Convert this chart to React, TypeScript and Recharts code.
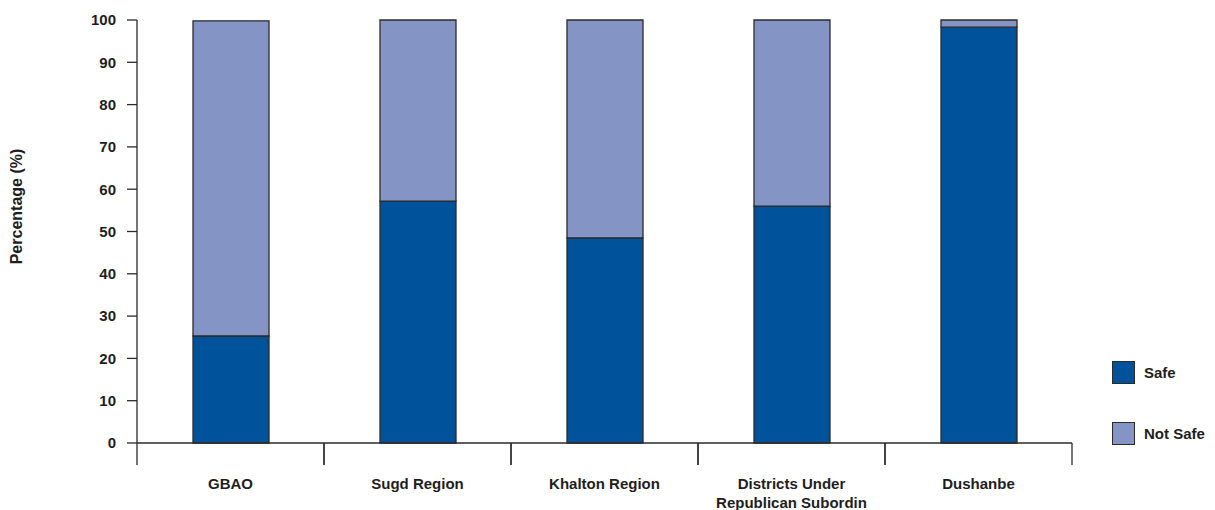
import React from 'react';
import { BarChart, Bar, XAxis, YAxis } from 'recharts';

const categories = ['GBAO', 'Sugd Region', 'Khalton Region', 'Districts Under Republican Subordin', 'Dushanbe'];
const safeValues = [25.3, 57.2, 48.5, 56.0, 98.3];
const notSafeValues = [74.5, 42.8, 51.5, 44.0, 1.7];
const yTicks = [0, 10, 20, 30, 40, 50, 60, 70, 80, 90, 100];
const seriesNames = ['Safe', 'Not Safe'];
const colors = ['#00529b', '#8494c4'];

const data = categories.map((c, i) => ({ name: c, safe: safeValues[i], notSafe: notSafeValues[i] }));

const FONT = '"Liberation Sans", Arial, sans-serif';
const TEXT = '#1e1e1e';
const LINE = '#2b2b2b';

function wrap(label: string, max: number): string[] {
  const words = label.split(' ');
  const lines: string[] = [];
  let cur = '';
  for (const w of words) {
    const next = cur ? cur + ' ' + w : w;
    if (next.length > max && cur) {
      lines.push(cur);
      cur = w;
    } else cur = next;
  }
  if (cur) lines.push(cur);
  return lines;
}

const XTick = (props: any) => {
  const { x, y, payload } = props;
  const half = payload && payload.offset ? payload.offset : 93.5;
  const axisY = y - 2;
  const lines = wrap(String(payload.value), 20);
  return (
    <g>
      <line x1={x - half} x2={x - half} y1={axisY} y2={axisY + 22} stroke={LINE} strokeWidth={1.3} />
      <line x1={x + half} x2={x + half} y1={axisY} y2={axisY + 22} stroke={LINE} strokeWidth={1.3} />
      <text x={x} y={axisY + 46} textAnchor="middle" fontFamily={FONT} fontWeight="bold" fontSize={15} fill={TEXT}>
        {lines.map((l, i) => (
          <tspan key={i} x={x} dy={i === 0 ? 0 : 19}>{l}</tspan>
        ))}
      </text>
    </g>
  );
};

const LegendBox = () => (
  <div style={{ position: 'absolute', left: 1112, top: 361, fontFamily: FONT, fontWeight: 'bold', fontSize: 15, color: TEXT }}>
    {seriesNames.map((n, i) => (
      <div key={n} style={{ display: 'flex', alignItems: 'center', height: 23, marginBottom: i === 0 ? 38 : 0 }}>
        <div style={{ width: 21, height: 21, background: colors[i], border: '1px solid ' + LINE, marginRight: 9 }} />
        <span>{n}</span>
      </div>
    ))}
  </div>
);

export default function App() {
  return (
    <div style={{ position: 'absolute', left: 0, top: 0, width: 1215, height: 510, background: '#fff' }}>
      <BarChart width={1215} height={510} data={data} margin={{ top: 20, right: 143, left: 77, bottom: 17 }}>
        <XAxis
          dataKey="name"
          height={50}
          axisLine={{ stroke: LINE, strokeWidth: 1.3 }}
          tickLine={false}
          tickSize={0}
          tickMargin={2}
          interval={0}
          tick={<XTick />}
        />
        <YAxis
          width={60}
          domain={[0, 100]}
          ticks={yTicks}
          interval={0}
          axisLine={{ stroke: LINE, strokeWidth: 1.3 }}
          tickLine={{ stroke: LINE, strokeWidth: 1.3 }}
          tickSize={10}
          tickMargin={11}
          tick={{ fontFamily: FONT, fontWeight: 'bold', fontSize: 15, fill: TEXT }}
          label={{
            content: (p: any) => {
              const vb = p.viewBox || { y: 20, height: 423 };
              const cy = vb.y + vb.height / 2 - 25;
              return (
                <text
                  x={17}
                  y={cy}
                  dy={5}
                  transform={`rotate(-90, 17, ${cy})`}
                  textAnchor="middle"
                  fontFamily={FONT}
                  fontWeight="bold"
                  fontSize={16}
                  fill={TEXT}
                >
                  Percentage (%)
                </text>
              );
            },
          }}
        />
        <Bar dataKey="safe" name={seriesNames[0]} stackId="a" fill={colors[0]} stroke={LINE} strokeWidth={1.3} barSize={76} isAnimationActive={false} />
        <Bar dataKey="notSafe" name={seriesNames[1]} stackId="a" fill={colors[1]} stroke={LINE} strokeWidth={1.3} barSize={76} isAnimationActive={false} />
      </BarChart>
      <LegendBox />
    </div>
  );
}
